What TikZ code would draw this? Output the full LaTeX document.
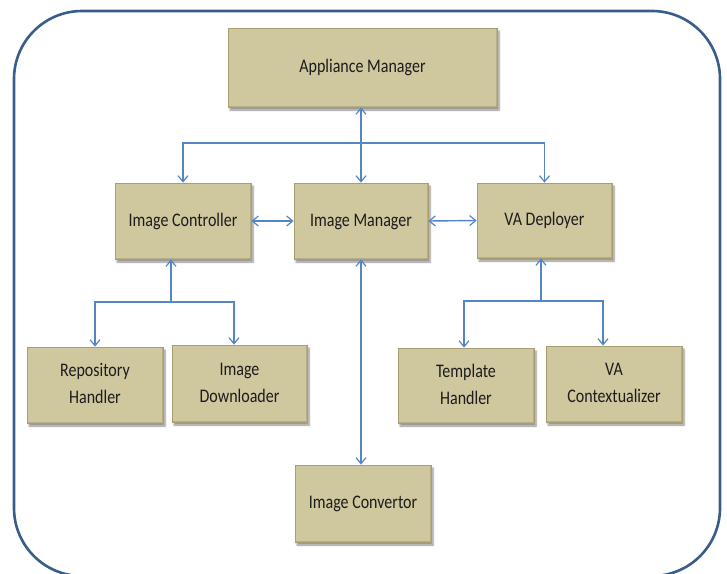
\documentclass[tikz,border=0pt]{standalone}
\usepackage{fontspec}
\setmainfont{Carlito}
\usetikzlibrary{arrows.meta,shadows.blur}

\definecolor{frameblue}{RGB}{56,93,138}
\definecolor{linkblue}{RGB}{84,133,196}
\definecolor{tanfill}{RGB}{207,199,158}
\definecolor{tanedge}{RGB}{168,158,114}
\definecolor{tanlight}{RGB}{232,227,200}
\definecolor{textdark}{RGB}{28,28,28}

% box label: Calibri-like text, slightly tall
\newcommand\boxlabel[1]{\scalebox{1}[1.2]{\begin{tabular}{@{}c@{}}#1\end{tabular}}}

\tikzset{
  module/.style={
    draw=tanedge, line width=0.8pt, fill=tanfill, inner sep=0pt,
    text=textdark, font=\fontsize{16}{22.5}\selectfont,
    blur shadow={shadow xshift=2pt, shadow yshift=-3pt, shadow blur steps=6, shadow opacity=45},
    path picture={
      \draw[tanlight, line width=2.5pt, opacity=0.8]
        (path picture bounding box.south west) -- (path picture bounding box.north west)
        -- (path picture bounding box.north east);
      \draw[tanedge, line width=2.5pt, opacity=0.6]
        (path picture bounding box.north east) -- (path picture bounding box.south east)
        -- (path picture bounding box.south west);
    }
  },
  link/.style={draw=linkblue, line width=1.4pt, -{Straight Barb[length=6pt,width=10pt,line width=1.2pt]}},
  biglink/.style={draw=linkblue, line width=1.4pt,
    {Straight Barb[length=6pt,width=10pt,line width=1.2pt]}-{Straight Barb[length=6pt,width=10pt,line width=1.2pt]}},
}

\begin{document}
\begin{tikzpicture}[x=1pt,y=-1pt]
\useasboundingbox (0,0) rectangle (727,573);

% outer frame
\draw[frameblue, line width=2.6pt, rounded corners=68pt] (14,11) rectangle (720,576);

% modules
\node[module, minimum width=269pt, minimum height=79pt] (am) at (362.5,67.5) {\boxlabel{Appliance Manager}};
\node[module, minimum width=136pt, minimum height=76pt] (ic) at (183,221) {\boxlabel{Image Controller}};
\node[module, minimum width=134pt, minimum height=76pt] (im) at (361,221) {\boxlabel{Image Manager}};
\node[module, minimum width=135pt, minimum height=75pt] (vd) at (544.5,220.5) {\boxlabel{VA Deployer}};
\node[module, minimum width=136pt, minimum height=76pt] (rh) at (95,385) {\boxlabel{Repository\\Handler}};
\node[module, minimum width=135pt, minimum height=77pt] (id) at (239.5,383.5) {\boxlabel{Image\\Downloader}};
\node[module, minimum width=136pt, minimum height=75pt] (th) at (466,385.5) {\boxlabel{Template\\Handler}};
\node[module, minimum width=136pt, minimum height=76pt] (vc) at (614,384) {\boxlabel{VA\\Contextualizer}};
\node[module, minimum width=136pt, minimum height=77pt] (cv) at (363,503.5) {\boxlabel{Image Convertor}};

% junction points of the branching connectors
\coordinate (topbus) at (361,143);
\coordinate (leftbus) at (171,302);
\coordinate (rightbus) at (541,301);

% appliance manager <-> image manager, and fan-out to controller and deployer
\draw[biglink] (am.south -| im.north) -- (im.north);
\draw[link] (topbus) -| (ic.north);
\draw[link] (topbus) -| (vd.north);

% horizontal links between the middle row
\draw[biglink] (ic.east) -- (im.west);
\draw[biglink] (im.east) -- (vd.west);

% image controller branch
\draw[draw=linkblue, line width=1.4pt, {Straight Barb[length=6pt,width=10pt,line width=1.2pt]}-] (ic.south -| leftbus) -- (leftbus);
\draw[link] (leftbus) -| (rh.north);
\draw[link] (leftbus) -| ([xshift=-5.5pt]id.north);

% VA deployer branch
\draw[draw=linkblue, line width=1.4pt, {Straight Barb[length=6pt,width=10pt,line width=1.2pt]}-] (vd.south -| rightbus) -- (rightbus);
\draw[link] (rightbus) -| ([xshift=-2pt]th.north);
\draw[link] (rightbus) -| ([xshift=-11pt]vc.north);

% image manager <-> image convertor
\draw[biglink] (im.south) -- (im.south |- cv.north);
\end{tikzpicture}
\end{document}
